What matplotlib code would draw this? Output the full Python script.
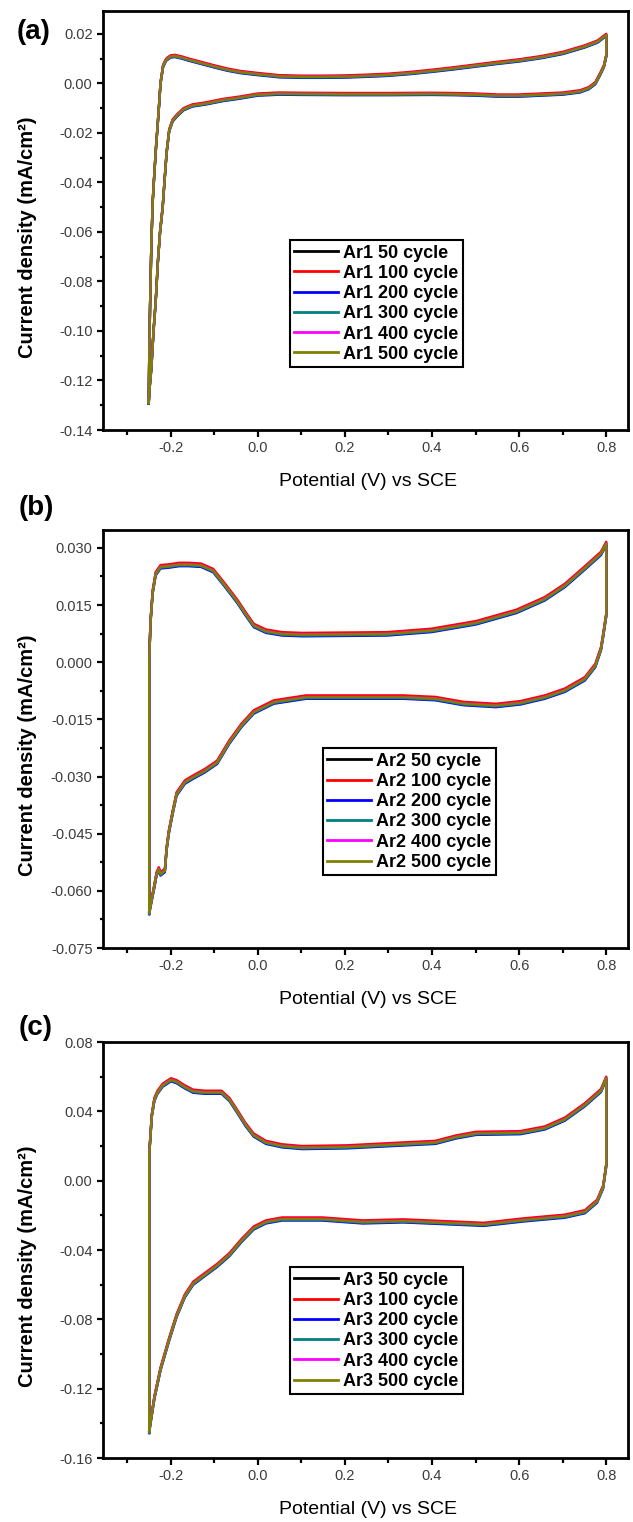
import matplotlib
matplotlib.use("Agg")
import matplotlib.pyplot as plt
from matplotlib.ticker import MultipleLocator, FormatStrFormatter

plt.rcParams['font.family'] = ['Liberation Sans', 'DejaVu Sans']
plt.rcParams['axes.unicode_minus'] = False

cycles = [50, 100, 200, 300, 400, 500]
cycle_colors = ['#000000', '#ff0000', '#0000ff', '#008080', '#ff00ff', '#808000']

# ---- Ar1: forward (anodic) and reverse (cathodic) sweeps ----
pot_a_fwd = [-0.250, -0.249, -0.247, -0.244, -0.241, -0.237, -0.233, -0.230, -0.226, -0.223,
             -0.217, -0.210, -0.200, -0.190, -0.175, -0.160, -0.130, -0.100, -0.070, -0.040,
             0.000, 0.050, 0.100, 0.150, 0.200, 0.250, 0.300, 0.350, 0.400, 0.450,
             0.500, 0.550, 0.600, 0.650, 0.700, 0.750, 0.780, 0.800]
cur_a_fwd = [-0.129, -0.112, -0.090, -0.065, -0.048, -0.036, -0.025, -0.018, -0.008, 0.000,
             0.007, 0.0095, 0.0108, 0.0110, 0.0104, 0.0096, 0.0082, 0.0068, 0.0055, 0.0045,
             0.0037, 0.0028, 0.0026, 0.0026, 0.0027, 0.0030, 0.0034, 0.0041, 0.0050, 0.0060,
             0.0071, 0.0082, 0.0092, 0.0105, 0.0122, 0.0148, 0.0168, 0.0195]
pot_a_rev = [0.800, 0.795, 0.787, 0.775, 0.760, 0.740, 0.700, 0.650, 0.600,
             0.550, 0.500, 0.450, 0.400, 0.300, 0.200, 0.100, 0.050, 0.000, -0.040,
             -0.080, -0.120, -0.150, -0.170, -0.185, -0.195, -0.203, -0.209, -0.214, -0.218,
             -0.224, -0.229, -0.234, -0.239, -0.244, -0.248, -0.250]
cur_a_rev = [0.0110, 0.0070, 0.0040, 0.0000, -0.0020, -0.0033, -0.0042, -0.0046, -0.0050,
             -0.0050, -0.0046, -0.0044, -0.0043, -0.0044, -0.0044, -0.0043, -0.0042, -0.0046, -0.0058,
             -0.0068, -0.0082, -0.0090, -0.0105, -0.0130, -0.0150, -0.0190, -0.0280, -0.0400, -0.0500,
             -0.0600, -0.0720, -0.0880, -0.1000, -0.1150, -0.1230, -0.1290]
shift_a = [0.0002, 0.0005, -0.0004, -0.0002, 0.0001, 0.0]

# ---- Ar2 ----
pot_b_fwd = [-0.249, -0.249, -0.249, -0.246, -0.241, -0.234, -0.223, -0.204, -0.180, -0.158,
             -0.130, -0.102, -0.074, -0.046, -0.028, -0.009, 0.019, 0.056, 0.102, 0.204,
             0.297, 0.399, 0.501, 0.594, 0.659, 0.705, 0.751, 0.788, 0.800]
cur_b_fwd = [-0.0657, -0.030, 0.000, 0.0105, 0.0184, 0.0232, 0.0250, 0.0252, 0.0256, 0.0256,
             0.0254, 0.0240, 0.0200, 0.0158, 0.0127, 0.0096, 0.0081, 0.0074, 0.0072, 0.0073,
             0.0074, 0.0083, 0.0103, 0.0133, 0.0166, 0.0201, 0.0247, 0.0285, 0.0311]
pot_b_rev = [0.800, 0.793, 0.788, 0.775, 0.751, 0.705, 0.659, 0.603, 0.547,
             0.473, 0.408, 0.334, 0.204, 0.111, 0.037, -0.009, -0.037, -0.065, -0.093,
             -0.121, -0.148, -0.167, -0.186, -0.195, -0.204, -0.209, -0.213, -0.223, -0.227,
             -0.232, -0.237, -0.243, -0.249]
cur_b_rev = [0.0123, 0.0070, 0.0035, -0.0009, -0.0044, -0.0074, -0.0092, -0.0107, -0.0114,
             -0.0109, -0.0096, -0.0092, -0.0092, -0.0092, -0.0105, -0.0131, -0.0166, -0.0210, -0.0263,
             -0.0285, -0.0302, -0.0315, -0.0346, -0.0394, -0.0447, -0.0490, -0.0547, -0.0556, -0.0543,
             -0.0556, -0.0587, -0.0622, -0.0657]
shift_b = [0.0002, 0.0005, -0.0004, -0.0002, 0.0001, 0.0]

# ---- Ar3 ----
pot_c_fwd = [-0.249, -0.249, -0.249, -0.243, -0.237, -0.230, -0.218, -0.199, -0.186, -0.167,
             -0.148, -0.121, -0.083, -0.065, -0.046, -0.028, -0.009, 0.019, 0.056, 0.102,
             0.204, 0.297, 0.408, 0.455, 0.501, 0.603, 0.659, 0.705, 0.751, 0.788, 0.800]
cur_c_fwd = [-0.1448, -0.060, 0.0148, 0.0375, 0.0468, 0.0509, 0.0550, 0.0581, 0.0570, 0.0540,
             0.0515, 0.0509, 0.0509, 0.0468, 0.0395, 0.0323, 0.0262, 0.0220, 0.0200, 0.0190,
             0.0194, 0.0206, 0.0220, 0.0251, 0.0272, 0.0276, 0.0303, 0.0354, 0.0437, 0.0519, 0.0590]
pot_c_rev = [0.800, 0.800, 0.793, 0.779, 0.751, 0.705, 0.612, 0.519, 0.427, 0.334,
             0.241, 0.148, 0.056, 0.019, -0.009, -0.037, -0.065, -0.093, -0.121, -0.148,
             -0.167, -0.186, -0.204, -0.223, -0.237, -0.246, -0.249]
cur_c_rev = [0.0400, 0.0087, -0.0037, -0.0120, -0.0180, -0.0206, -0.0227, -0.0253, -0.0243, -0.0233,
             -0.0239, -0.0222, -0.0222, -0.0239, -0.0274, -0.0346, -0.0428, -0.0490, -0.0542, -0.0593,
             -0.0665, -0.0779, -0.0923, -0.1088, -0.1252, -0.1396, -0.1448]
shift_c = [0.0004, 0.0010, -0.0008, -0.0004, 0.0002, 0.0]

panels = [
    dict(tag='(a)', sample='Ar1', fwd=(pot_a_fwd, cur_a_fwd), rev=(pot_a_rev, cur_a_rev),
         shift=shift_a, ylim=(-0.14, 0.029), major=0.02, minor=0.01, fmt='%.2f',
         rect=[103 / 633, 1 - 430 / 1522, 525 / 633, 418.5 / 1522],
         leg=(0.356, 0.454), tagpos=(34, 32)),
    dict(tag='(b)', sample='Ar2', fwd=(pot_b_fwd, cur_b_fwd), rev=(pot_b_rev, cur_b_rev),
         shift=shift_b, ylim=(-0.075, 0.0347), major=0.015, minor=0.0075, fmt='%.3f',
         rect=[103 / 633, 1 - 948 / 1522, 525 / 633, 418 / 1522],
         leg=(0.419, 0.478), tagpos=(36, 508)),
    dict(tag='(c)', sample='Ar3', fwd=(pot_c_fwd, cur_c_fwd), rev=(pot_c_rev, cur_c_rev),
         shift=shift_c, ylim=(-0.16, 0.08), major=0.04, minor=0.02, fmt='%.2f',
         rect=[103 / 633, 1 - 1458 / 1522, 525 / 633, 416 / 1522],
         leg=(0.356, 0.459), tagpos=(36, 1028)),
]

fig = plt.figure(figsize=(6.33, 15.22), dpi=100)

for p in panels:
    ax = fig.add_axes(p['rect'])
    pot = list(p['fwd'][0]) + list(p['rev'][0])
    cur = list(p['fwd'][1]) + list(p['rev'][1])
    for n, color, dj in zip(cycles, cycle_colors, p['shift']):
        ax.plot(pot, [v + dj for v in cur], color=color, lw=1.7,
                label=f"{p['sample']} {n} cycle")

    ax.set_xlim(-0.355, 0.85)
    ax.set_ylim(*p['ylim'])
    ax.xaxis.set_major_locator(MultipleLocator(0.2))
    ax.xaxis.set_minor_locator(MultipleLocator(0.1))
    ax.xaxis.set_major_formatter(FormatStrFormatter('%.1f'))
    ax.yaxis.set_major_locator(MultipleLocator(p['major']))
    ax.yaxis.set_minor_locator(MultipleLocator(p['minor']))
    ax.yaxis.set_major_formatter(FormatStrFormatter(p['fmt']))

    for s in ax.spines.values():
        s.set_linewidth(2.0)
    ax.tick_params(which='major', direction='out', length=5, width=1.6,
                   labelsize=10.5, labelcolor='#3c3c3c', pad=3)
    ax.tick_params(which='minor', direction='out', length=3.5, width=1.6)
    ax.tick_params(axis='y', which='major', length=4.5)
    ax.tick_params(axis='y', which='minor', length=2.5)

    ax.set_xlabel('Potential (V) vs SCE', fontsize=14)
    ax.xaxis.set_label_coords(0.505, -0.103)
    ax.set_ylabel('Current density (mA/cm²)', fontsize=14.5, fontweight='bold')
    ax.yaxis.set_label_coords(-0.126, 0.46)

    leg = ax.legend(loc='upper left', bbox_to_anchor=p['leg'], borderaxespad=0,
                    frameon=True, fancybox=False, framealpha=1, edgecolor='black',
                    prop={'weight': 'bold', 'size': 13}, handlelength=2.4,
                    handletextpad=0.3, labelspacing=0.18, borderpad=0.25)
    leg.get_frame().set_linewidth(1.5)
    for line in leg.get_lines():
        line.set_linewidth(2.0)

    fig.text(p['tagpos'][0] / 633, 1 - p['tagpos'][1] / 1522, p['tag'],
             fontsize=20, fontweight='bold', ha='center', va='center')

fig.savefig('out.png', dpi=100)
